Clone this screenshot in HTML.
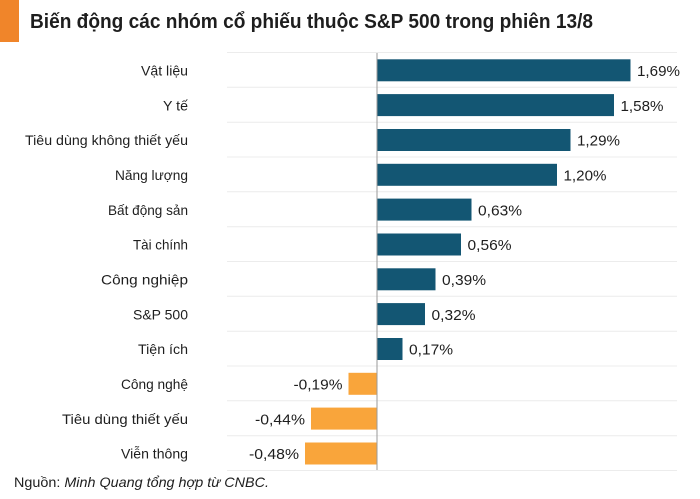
<!DOCTYPE html>
<html>
<head>
<meta charset="utf-8">
<style>
html,body{margin:0;padding:0;background:#fff;}
svg{display:block;}
text{font-family:"Liberation Sans",Arial,sans-serif;fill:#1e1e1e;}
</style>
</head>
<body>
<svg width="700" height="499" viewBox="0 0 700 499" xmlns="http://www.w3.org/2000/svg">
<rect x="0" y="0" width="700" height="499" fill="#fff"/>
<rect x="0" y="0" width="19" height="42" fill="#F0852A"/>
<text x="30" y="28" font-size="20" font-weight="bold" textLength="563" lengthAdjust="spacingAndGlyphs">Biến động các nhóm cổ phiếu thuộc S&amp;P 500 trong phiên 13/8</text>

<g stroke="#ececec" stroke-width="1">
<line x1="227" x2="677" y1="52.5" y2="52.5"/>
<line x1="227" x2="677" y1="87.3" y2="87.3"/>
<line x1="227" x2="677" y1="122.2" y2="122.2"/>
<line x1="227" x2="677" y1="157" y2="157"/>
<line x1="227" x2="677" y1="191.8" y2="191.8"/>
<line x1="227" x2="677" y1="226.7" y2="226.7"/>
<line x1="227" x2="677" y1="261.5" y2="261.5"/>
<line x1="227" x2="677" y1="296.3" y2="296.3"/>
<line x1="227" x2="677" y1="331.2" y2="331.2"/>
<line x1="227" x2="677" y1="366" y2="366"/>
<line x1="227" x2="677" y1="400.8" y2="400.8"/>
<line x1="227" x2="677" y1="435.7" y2="435.7"/>
<line x1="227" x2="677" y1="470.5" y2="470.5"/>
</g>

<g fill="#135673">
<rect x="377" y="59.3" width="253.5" height="22"/>
<rect x="377" y="94.1" width="237" height="22"/>
<rect x="377" y="129" width="193.5" height="22"/>
<rect x="377" y="163.8" width="180" height="22"/>
<rect x="377" y="198.6" width="94.5" height="22"/>
<rect x="377" y="233.5" width="84" height="22"/>
<rect x="377" y="268.3" width="58.5" height="22"/>
<rect x="377" y="303.1" width="48" height="22"/>
<rect x="377" y="338" width="25.5" height="22"/>
</g>
<g fill="#F9A53B">
<rect x="348.5" y="372.8" width="28.5" height="22"/>
<rect x="311" y="407.6" width="66" height="22"/>
<rect x="305" y="442.5" width="72" height="22"/>
</g>
<line x1="377" x2="377" y1="53" y2="470" stroke="#9a9a9a" stroke-width="1"/>

<g font-size="14" text-anchor="end">
<text x="188" y="75.5" textLength="47" lengthAdjust="spacingAndGlyphs">Vật liệu</text>
<text x="188" y="110.3" textLength="25" lengthAdjust="spacingAndGlyphs">Y tế</text>
<text x="188" y="145.2" textLength="163" lengthAdjust="spacingAndGlyphs">Tiêu dùng không thiết yếu</text>
<text x="188" y="180" textLength="73" lengthAdjust="spacingAndGlyphs">Năng lượng</text>
<text x="188" y="214.8" textLength="80" lengthAdjust="spacingAndGlyphs">Bất động sản</text>
<text x="188" y="249.7" textLength="55" lengthAdjust="spacingAndGlyphs">Tài chính</text>
<text x="188" y="284.5" textLength="87" lengthAdjust="spacingAndGlyphs">Công nghiệp</text>
<text x="188" y="319.3" textLength="55" lengthAdjust="spacingAndGlyphs">S&amp;P 500</text>
<text x="188" y="354.2" textLength="50" lengthAdjust="spacingAndGlyphs">Tiện ích</text>
<text x="188" y="389" textLength="67" lengthAdjust="spacingAndGlyphs">Công nghệ</text>
<text x="188" y="423.8" textLength="126" lengthAdjust="spacingAndGlyphs">Tiêu dùng thiết yếu</text>
<text x="188" y="458.7" textLength="67" lengthAdjust="spacingAndGlyphs">Viễn thông</text>
</g>

<g font-size="14.5">
<text x="637" y="76" textLength="43" lengthAdjust="spacingAndGlyphs">1,69%</text>
<text x="620.5" y="110.8" textLength="43" lengthAdjust="spacingAndGlyphs">1,58%</text>
<text x="577" y="145.7" textLength="43" lengthAdjust="spacingAndGlyphs">1,29%</text>
<text x="563.5" y="180.5" textLength="43" lengthAdjust="spacingAndGlyphs">1,20%</text>
<text x="478" y="215.3" textLength="44" lengthAdjust="spacingAndGlyphs">0,63%</text>
<text x="467.5" y="250.2" textLength="44" lengthAdjust="spacingAndGlyphs">0,56%</text>
<text x="442" y="285" textLength="44" lengthAdjust="spacingAndGlyphs">0,39%</text>
<text x="431.5" y="319.8" textLength="44" lengthAdjust="spacingAndGlyphs">0,32%</text>
<text x="409" y="354.7" textLength="44" lengthAdjust="spacingAndGlyphs">0,17%</text>
</g>
<g font-size="14.5" text-anchor="end">
<text x="342.5" y="389.5" textLength="49" lengthAdjust="spacingAndGlyphs">-0,19%</text>
<text x="305" y="424.3" textLength="50" lengthAdjust="spacingAndGlyphs">-0,44%</text>
<text x="299" y="459.2" textLength="50" lengthAdjust="spacingAndGlyphs">-0,48%</text>
</g>

<text x="14" y="487" font-size="14" textLength="255" lengthAdjust="spacingAndGlyphs">Nguồn: <tspan font-style="italic">Minh Quang tổng hợp từ CNBC.</tspan></text>
</svg>
</body>
</html>
